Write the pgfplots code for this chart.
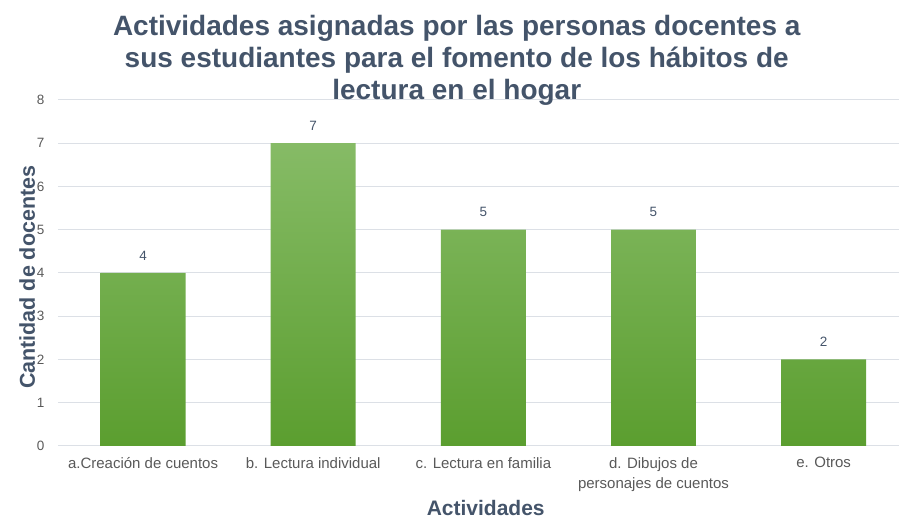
\documentclass[border=0pt]{standalone}
\usepackage{pgfplots}
\pgfplotsset{compat=1.18}
\usepackage{fontspec}
\setmainfont{Liberation Sans}
\definecolor{titlec}{HTML}{44546A}
\definecolor{tickc}{HTML}{595959}
\definecolor{gridc}{HTML}{DCE0E6}
\definecolor{bartop}{HTML}{86BB66}
\definecolor{barbot}{HTML}{5B9E2F}
\begin{document}
\begin{tikzpicture}
\begin{axis}[
  scale only axis,
  width=841bp, height=346bp,
  xmin=-0.5, xmax=4.44,
  ymin=0, ymax=8,
  ytick={0,1,...,8},
  xtick={0,1,2,3,4},
  xticklabels={a.Creación de cuentos, b. Lectura individual, c. Lectura en familia, d. Dibujos de\\personajes de cuentos, e. Otros},
  xticklabel style={align=center, font=\fontsize{15bp}{20bp}\selectfont, text=tickc, anchor=north, yshift=-8bp},
  yticklabel style={font=\fontsize{13.5bp}{16bp}\selectfont, text=tickc, xshift=-10bp},
  /pgf/number format/assume math mode=true,
  ymajorgrids, grid style={gridc, line width=1bp},
  axis line style={draw=none},
  major tick length=0pt,
  clip=false,
  nodes near coords,
  every node near coord/.append style={font=\fontsize{13.5bp}{16bp}\selectfont, text=titlec, yshift=9bp},
]
\addplot[ybar, bar width=85bp, draw=none, top color=bartop, bottom color=barbot] coordinates {(0,4) (1,7) (2,5) (3,5) (4,2)};
\end{axis}
\node[align=center, anchor=north, text=titlec, font=\bfseries\fontsize{28bp}{32bp}\selectfont] at (399bp,434bp) {Actividades asignadas por las personas docentes a\\sus estudiantes para el fomento de los hábitos de\\lectura en el hogar};
\node[anchor=base, text=titlec, font=\bfseries\fontsize{21bp}{24bp}\selectfont] at (428bp,-70bp) {Actividades};
\node[anchor=base, rotate=90, text=titlec, font=\bfseries\fontsize{21.5bp}{24bp}\selectfont] at (-23bp,168.5bp) {Cantidad de docentes};
\path[use as bounding box] (-58bp,-71bp) rectangle (841bp,446bp);
\end{tikzpicture}
\end{document}
